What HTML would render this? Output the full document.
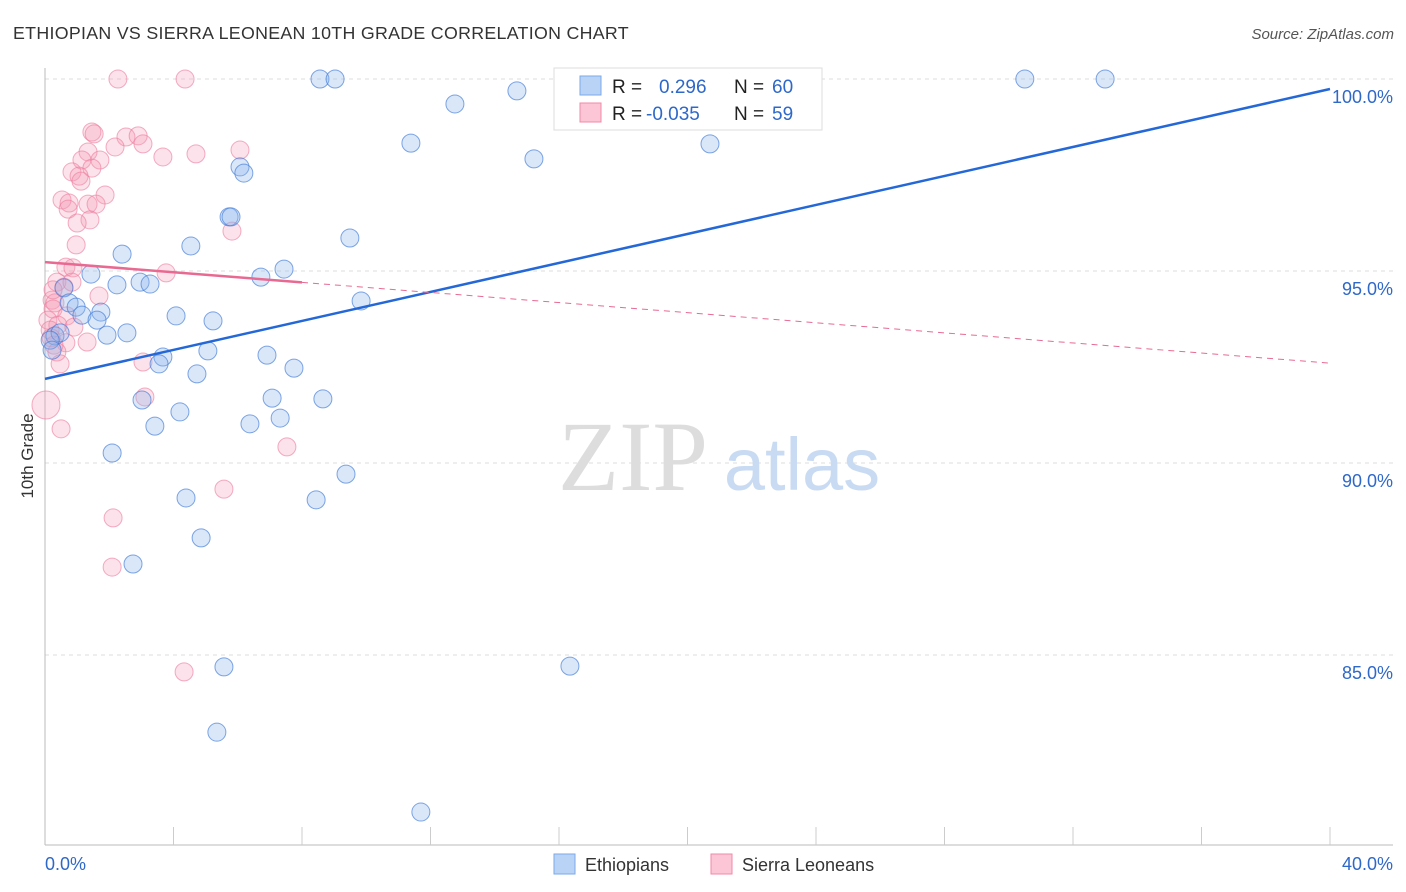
<!DOCTYPE html>
<html><head><meta charset="utf-8"><style>
body{margin:0;background:#fff;font-family:"Liberation Sans",sans-serif}
svg{display:block}
</style></head><body>
<svg id="chart" width="1406" height="892">
<text x="13" y="39" font-size="17.8" fill="#333" letter-spacing="0.3">ETHIOPIAN VS SIERRA LEONEAN 10TH GRADE CORRELATION CHART</text>
<text x="1394" y="39" font-size="15" fill="#555" font-style="italic" text-anchor="end">Source: ZipAtlas.com</text>
<text transform="translate(33,456) rotate(-90)" font-size="17" fill="#333" text-anchor="middle">10th Grade</text>
<g id="grid"></g>
<g><text x="633" y="490" font-size="100" font-family="Liberation Serif,serif" fill="#ddd" text-anchor="middle">ZIP</text><text x="802" y="490" font-size="74" fill="#c9dbf2" text-anchor="middle">atlas</text></g>
<g id="axes"></g>
<g id="pts"></g>
<g id="trends"></g>
<g>
<rect x="554" y="68" width="268" height="62" fill="#fff" stroke="#ddd"/>
<rect x="580" y="76" width="21" height="19" fill="#b9d3f7" stroke="#7aaae8"/>
<rect x="580" y="103" width="21" height="19" fill="#fcc6d6" stroke="#f08aa8"/>
<text x="612" y="93" font-size="19" fill="#222">R =</text><text x="659" y="93" font-size="19" fill="#2e68c8">0.296</text>
<text x="734" y="93" font-size="19" fill="#222">N =</text><text x="772" y="93" font-size="19" fill="#2e68c8">60</text>
<text x="612" y="120" font-size="19" fill="#222">R =</text><text x="646" y="120" font-size="19" fill="#2e68c8">-0.035</text>
<text x="734" y="120" font-size="19" fill="#222">N =</text><text x="772" y="120" font-size="19" fill="#2e68c8">59</text>
</g>
<g>
<rect x="554" y="854" width="21" height="20" fill="#b9d3f7" stroke="#7aaae8"/>
<text x="585" y="871" font-size="18" fill="#333">Ethiopians</text>
<rect x="711" y="854" width="21" height="20" fill="#fcc6d6" stroke="#f08aa8"/>
<text x="742" y="871" font-size="18" fill="#333">Sierra Leoneans</text>
</g>
</svg>
<script>
const yTicks=[100,95,90,85];
const yTickLabels=["100.0%","95.0%","90.0%","85.0%"];
const xTickLabels=["0.0%","40.0%"];
const ethX=[8.56,9.03,30.5,33.0,14.69,12.76,11.39,20.70,15.22,6.07,6.19,5.73,5.79,9.49,4.54,2.40,1.43,7.44,6.72,2.96,2.24,3.27,0.59,9.84,0.75,0.97,1.74,1.15,4.08,1.62,5.23,2.55,1.93,0.31,0.47,5.07,3.67,3.55,6.91,7.75,4.73,3.02,7.07,8.65,4.20,7.32,3.42,6.38,2.09,9.37,4.39,8.44,4.86,2.74,5.57,16.34,5.35,11.70,0.16,0.22];
const ethY=[100,100,100,100,99.69,99.35,98.33,98.31,97.92,97.71,97.55,96.41,96.41,95.86,95.65,95.44,94.92,95.05,94.84,94.71,94.64,94.66,94.56,94.22,94.17,94.06,93.93,93.85,93.83,93.72,93.70,93.39,93.33,93.31,93.39,92.92,92.76,92.58,92.81,92.47,92.32,91.64,91.69,91.67,91.33,91.17,90.96,91.02,90.26,89.71,89.09,89.04,88.05,87.37,84.69,84.71,82.99,80.91,93.20,92.94];
const sleX=[2.27,4.36,1.46,1.53,2.52,2.90,3.05,2.18,1.34,6.07,4.70,3.67,1.71,1.15,1.46,0.84,1.06,1.12,1.87,0.53,1.34,0.75,1.59,0.72,1.40,1.00,5.82,0.97,0.65,0.87,3.77,0.37,0.59,1.68,0.22,0.31,0.25,0.68,0.09,0.40,0.90,0.16,0.19,1.31,0.65,0.28,0.37,0.47,3.05,3.11,0.03,0.50,7.53,5.57,2.12,2.09,4.33,0.84,0.25];
const sleY=[100,100,98.62,98.57,98.49,98.52,98.31,98.23,98.10,98.15,98.05,97.97,97.89,97.89,97.68,97.58,97.47,97.34,96.98,96.85,96.74,96.77,96.74,96.61,96.33,96.25,96.04,95.68,95.10,95.08,94.95,94.71,94.58,94.35,94.24,94.17,94.01,93.83,93.72,93.59,93.54,93.46,93.26,93.15,93.13,93.07,92.89,92.58,92.63,91.72,91.51,90.89,90.42,89.32,88.57,87.29,84.56,94.71,94.51];
const ethTrend=[92.19,99.74];
const sleTrend=[95.23,92.60];
const X0=45,X1=1330,Y100=79,PX5=192;
const sx=v=>X0+(v/40)*(X1-X0);
const sy=v=>Y100+(100-v)/5*PX5;
const NS="http://www.w3.org/2000/svg";
function mk(t,a,p){const e=document.createElementNS(NS,t);for(const k in a)e.setAttribute(k,a[k]);p.appendChild(e);return e;}
const grid=document.getElementById('grid'),axes=document.getElementById('axes');
yTicks.forEach((v,i)=>{
 const l=mk('line',{x1:X0,x2:1393,y1:sy(v),y2:sy(v),stroke:'#ddd','stroke-dasharray':'4,4'},grid);
 
 
 const t=mk('text',{x:1393,y:sy(v)+24,'font-size':18,fill:'#2e68c8','text-anchor':'end'},axes);
 t.textContent=yTickLabels[i];
 
 
});
mk('line',{x1:X0,x2:X0,y1:68,y2:845,stroke:'#bbb'},axes);
mk('line',{x1:X0,x2:1393,y1:845,y2:845,stroke:'#bbb'},axes);
for(let i=1;i<=10;i++){const x=sx(i*4);mk('line',{x1:x,x2:x,y1:827,y2:845,stroke:'#ccc'},axes);}
const xl0=mk('text',{x:45,y:870,'font-size':18,fill:'#2e68c8'},axes);xl0.textContent=xTickLabels[0];


const xl1=mk('text',{x:1393,y:870,'font-size':18,fill:'#2e68c8','text-anchor':'end'},axes);xl1.textContent=xTickLabels[1];


const pts=document.getElementById('pts');
sleX.forEach((x,i)=>{
 const c=mk('circle',{cx:sx(x),cy:sy(sleY[i]),r:(i===50?14:9),fill:'rgba(246,150,180,0.28)',stroke:'rgba(236,120,155,0.6)','stroke-width':1},pts);
 
 
});
ethX.forEach((x,i)=>{
 const c=mk('circle',{cx:sx(x),cy:sy(ethY[i]),r:9,fill:'rgba(140,180,236,0.32)',stroke:'rgba(60,120,215,0.65)','stroke-width':1},pts);
 
 
});
const tr=document.getElementById('trends');
const bl=mk('line',{x1:sx(0),y1:sy(ethTrend[0]),x2:sx(40),y2:sy(ethTrend[1]),stroke:'#2468d8','stroke-width':2.5},tr);


const ps=v=>sleTrend[0]+(sleTrend[1]-sleTrend[0])*v/40;
const pl=mk('line',{x1:sx(0),y1:sy(ps(0)),x2:sx(8),y2:sy(ps(8)),stroke:'#e86a92','stroke-width':2.5},tr);


const pd=mk('line',{x1:sx(8),y1:sy(ps(8)),x2:sx(40),y2:sy(ps(40)),stroke:'#e86a92','stroke-width':1,'stroke-dasharray':'6,5'},tr);


</script>
</body></html>
